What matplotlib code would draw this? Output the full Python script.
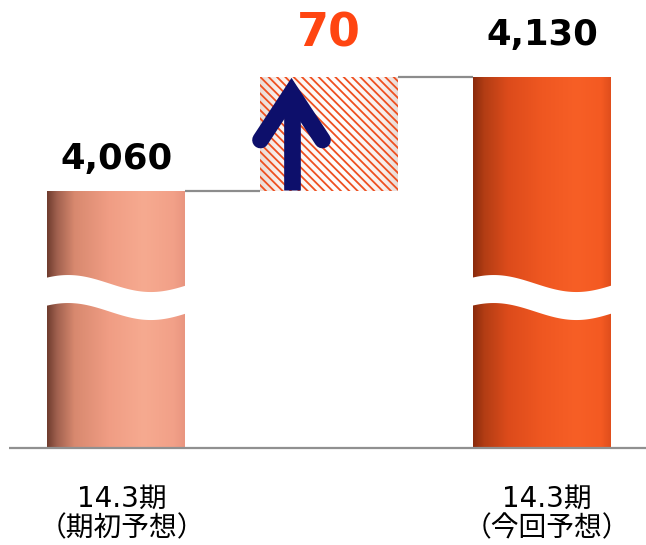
import numpy as np
import matplotlib
matplotlib.use("Agg")
import matplotlib.pyplot as plt
from matplotlib.colors import LinearSegmentedColormap
from matplotlib.patches import Polygon
import matplotlib.transforms as mtransforms

# ---- data ----
line1_labels = ["14.3期", "", "14.3期"]
line2_labels = ["（期初予想）", "", "（今回予想）"]
start_value = 4060
change_value = 70
end_value = 4130
value_labels = ["4,060", "70", "4,130"]
axis_floor = 3901          # visible bottom of the broken axis

plt.rcParams["hatch.linewidth"] = 1.3
plt.rcParams["hatch.color"] = "#ee5020"

W, H = 646, 545
fig = plt.figure(figsize=(W / 100, H / 100), dpi=100)
ax = fig.add_axes([0, 0, 1, 1])
ax.set_xlim(-0.547, 2.489)
ax.set_ylim(3841.4, 4177.5)
ax.axis("off")

x = np.arange(3)
width = 0.648
px_per_unit = H / (4177.5 - 3841.4)
px_per_x = W / (2.489 + 0.547)

bottoms = [axis_floor, start_value, axis_floor]
heights = [start_value - axis_floor, change_value, end_value - axis_floor]

cm1 = LinearSegmentedColormap.from_list("b1", [
    (0.0, "#6f3c2e"), (0.07, "#a0604e"), (0.2, "#d8896f"), (0.45, "#f09d84"),
    (0.7, "#f6aa90"), (0.92, "#f2a088"), (1.0, "#e99580")])
cm3 = LinearSegmentedColormap.from_list("b3", [
    (0.0, "#8a2a0c"), (0.08, "#b23d14"), (0.25, "#dc4b1b"), (0.5, "#ef5721"),
    (0.75, "#f75f26"), (0.93, "#f45a22"), (1.0, "#e04e1c")])
cm2 = LinearSegmentedColormap.from_list("b2", [
    (0.0, "#eadcd6"), (0.15, "#fbf3f0"), (0.6, "#ffffff"), (0.9, "#f8efec"), (1.0, "#e8dcd8")])

grad = np.linspace(0, 1, 256).reshape(1, -1)
for i, cmap in zip(range(3), [cm1, cm2, cm3]):
    b = ax.bar(x[i], heights[i], bottom=bottoms[i], width=width,
               color="none", edgecolor="none", zorder=2)[0]
    left = x[i] - width / 2
    im = ax.imshow(grad, cmap=cmap, aspect="auto", zorder=1.5,
                   extent=(left, left + width, bottoms[i], bottoms[i] + heights[i]),
                   interpolation="bilinear")
    im.set_clip_path(b)

# hatched overlay for the change bar
ax.bar(x[1], heights[1], bottom=bottoms[1], width=width, facecolor="none",
       edgecolor="#ee5020", linewidth=0, hatch="\\\\\\\\", zorder=2.2)

ax.set_xlim(-0.547, 2.489)
ax.set_ylim(3841.4, 4177.5)

# ---- wavy axis break on the tall bars ----
amp = 8.5 / px_per_unit
gap = 28 / px_per_unit
top_center = start_value - (283.5 - 190.5) / px_per_unit
for i in (0, 2):
    left = x[i] - width / 2
    xs = np.linspace(left - 0.01, left + width + 0.01, 200)
    t = (xs - left) / width
    top = top_center + amp * np.cos(2 * np.pi * (t - 0.15) / 1.2)
    bot = top - gap
    poly = np.column_stack([np.r_[xs, xs[::-1]], np.r_[top, bot[::-1]]])
    ax.add_patch(Polygon(poly, closed=True, facecolor="white", edgecolor="none", zorder=3))

# ---- connectors and baseline ----
ax.plot([x[0] + width / 2, x[1] - width / 2], [start_value, start_value],
        color="#8c8c8c", lw=1.6, zorder=2, solid_capstyle="butt")
ax.plot([x[1] + width / 2, x[2] - width / 2], [end_value, end_value],
        color="#8c8c8c", lw=1.6, zorder=2, solid_capstyle="butt")
ax.plot([-0.505, 2.489], [axis_floor, axis_floor], color="#909090", lw=1.6, zorder=4,
        solid_capstyle="butt")

# ---- arrow ----
ax_x = x[1] - 0.177
arrow_col = "#0d0f6b"
ax.plot([ax_x, ax_x], [start_value + 0.5, end_value - 30 / px_per_unit],
        color=arrow_col, lw=12, solid_capstyle="butt", zorder=5)
wing = 31 / px_per_x
tip_y = end_value - (93 - 77) / px_per_unit
wing_y = end_value - (140 - 77) / px_per_unit
ax.plot([ax_x - wing, ax_x, ax_x + wing], [wing_y, tip_y, wing_y],
        color=arrow_col, lw=12, solid_capstyle="round", solid_joinstyle="miter", zorder=5)
tri = np.array([[ax_x, end_value - (78.5 - 77) / px_per_unit],
                [ax_x - 16 / px_per_x, end_value - (105 - 77) / px_per_unit],
                [ax_x + 16 / px_per_x, end_value - (105 - 77) / px_per_unit]])
ax.add_patch(Polygon(tri, closed=True, facecolor=arrow_col, edgecolor="none", zorder=5))

# ---- value labels ----
ax.annotate(value_labels[0], (x[0], start_value), xytext=(0, 15.5), textcoords="offset points",
            ha="center", va="baseline", fontsize=25.5, fontweight="bold", color="black",
            family="DejaVu Sans")
ax.annotate(value_labels[1], (x[1], end_value), xytext=(0, 22), textcoords="offset points",
            ha="center", va="baseline", fontsize=33, fontweight="bold", color="#ff4511",
            family="DejaVu Sans")
ax.annotate(value_labels[2], (x[2], end_value), xytext=(0, 22.7), textcoords="offset points",
            ha="center", va="baseline", fontsize=25.5, fontweight="bold", color="black",
            family="DejaVu Sans")

# ---- category labels ----
trans = mtransforms.blended_transform_factory(ax.transData, ax.transAxes)
fam = ["DejaVu Sans", "Noto Sans CJK JP"]
for i in range(3):
    if line1_labels[i]:
        ax.text(x[i] + 0.025, 1 - 507 / H, line1_labels[i], transform=trans, ha="center",
                va="baseline", fontsize=20, color="black", family=fam)
    if line2_labels[i]:
        ax.text(x[i] + 0.025, 1 - 536 / H, line2_labels[i], transform=trans, ha="center",
                va="baseline", fontsize=20, color="black", family=["Noto Sans CJK JP", "DejaVu Sans"])

fig.savefig("out.png", dpi=100, facecolor="white")
